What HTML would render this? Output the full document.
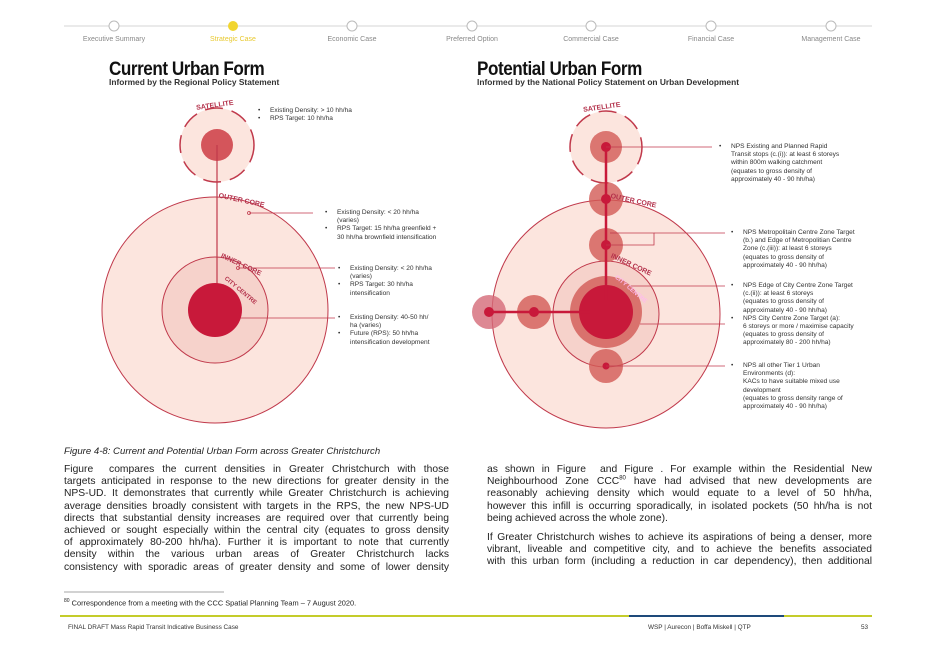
<!DOCTYPE html>
<html><head><meta charset="utf-8"><style>
*{margin:0;padding:0;box-sizing:border-box}
body{width:934px;height:661px;background:#fff;position:relative;overflow:hidden;font-family:"Liberation Sans",sans-serif;color:#222}
.a{position:absolute}
.nav{font-size:7px;color:#888;top:36px;width:110px;text-align:center}
.p{font-size:10.3px;line-height:12.2px;color:#222;width:385px}
.p div{text-align:justify;text-align-last:justify;white-space:nowrap}
.p div.l{text-align-last:left}
.lab{font-size:6.6px;line-height:8.2px;color:#333}
.lab li{list-style:none;position:relative}
.lab li:before{content:"•";position:absolute;left:-12px}
.t{font-size:19px;font-weight:bold;letter-spacing:-0.5px;color:#111;transform:scaleX(0.9);transform-origin:left}
</style></head><body>
<svg class="a" style="left:0;top:0" width="934" height="661">
<line x1="64" y1="26" x2="872" y2="26" stroke="#ddd" stroke-width="1.2"/>
<g fill="#fff" stroke="#bbb" stroke-width="1">
<circle cx="114" cy="26" r="5"/><circle cx="352" cy="26" r="5"/><circle cx="472" cy="26" r="5"/><circle cx="591" cy="26" r="5"/><circle cx="711" cy="26" r="5"/><circle cx="831" cy="26" r="5"/></g>
<circle cx="233" cy="26" r="5" fill="#f1d530"/>
<circle cx="215" cy="310" r="113" fill="#fce5de" stroke="#c0394b" stroke-width="1"/>
<circle cx="215" cy="310" r="53" fill="#f6d2cb" stroke="#c0394b" stroke-width="1"/>
<circle cx="217" cy="145" r="37" fill="#fce5de" stroke="#c0394b" stroke-width="1.5" stroke-dasharray="18 9"/>
<circle cx="217" cy="145" r="16" fill="#d4555b"/>
<line x1="217" y1="145" x2="217" y2="300" stroke="#c0394b" stroke-width="1.2"/>
<circle cx="215" cy="310" r="27" fill="#c8193a"/>
<g stroke="#c0394b" stroke-width="0.8" fill="none"><line x1="249" y1="213" x2="313" y2="213"/><circle cx="249" cy="213" r="1.5"/>
<line x1="238" y1="268" x2="335" y2="268"/><circle cx="238" cy="268" r="1.5"/><line x1="240" y1="318" x2="335" y2="318"/></g>
<g font-size="7" font-weight="bold" fill="#b3304a" font-family="Liberation Sans"><text x="196" y="108" transform="rotate(-8 210 105)">SATELLITE</text><text x="218" y="200" transform="rotate(12 230 200)">OUTER CORE</text><text x="218" y="262" transform="rotate(25 230 265)">INNER CORE</text><text x="218" y="284" font-size="6" transform="rotate(40 228 290)">CITY CENTRE</text></g>
<circle cx="606" cy="314" r="114" fill="#fce5de" stroke="#c0394b" stroke-width="1"/>
<circle cx="606" cy="314" r="53" fill="#f6d2cb" stroke="#c0394b" stroke-width="1"/>
<circle cx="606" cy="147" r="36" fill="#fce5de" stroke="#c0394b" stroke-width="1.5" stroke-dasharray="18 9"/>
<g fill="#d25a55" fill-opacity="0.8"><circle cx="606" cy="147" r="16"/><circle cx="606" cy="199" r="17"/><circle cx="606" cy="245" r="17"/><circle cx="606" cy="366" r="17"/><circle cx="534" cy="312" r="17"/><circle cx="489" cy="312" r="17" fill="#d46a78"/><circle cx="606" cy="312" r="36"/></g>
<circle cx="606" cy="312" r="27" fill="#c8193a"/>
<g stroke="#c8193a" stroke-width="2.5"><line x1="606" y1="147" x2="606" y2="300"/><line x1="489" y1="312" x2="590" y2="312"/></g>
<g fill="#c8193a"><circle cx="606" cy="147" r="5"/><circle cx="606" cy="199" r="5"/><circle cx="606" cy="245" r="5"/><circle cx="606" cy="366" r="3.5"/><circle cx="534" cy="312" r="5"/><circle cx="489" cy="312" r="5"/></g>
<g stroke="#c0394b" stroke-width="0.8" fill="none"><line x1="606" y1="147" x2="712" y2="147"/><polyline points="610,233 654,233 654,245 606,245"/><line x1="654" y1="233" x2="725" y2="233"/><line x1="630" y1="286" x2="725" y2="286"/><line x1="640" y1="324" x2="725" y2="324"/><line x1="606" y1="366" x2="725" y2="366"/></g>
<g font-size="7" font-weight="bold" fill="#b3304a" font-family="Liberation Sans"><text x="583" y="110" transform="rotate(-8 597 107)">SATELLITE</text><text x="610" y="200" transform="rotate(12 620 200)">OUTER CORE</text><text x="608" y="262" transform="rotate(25 620 265)">INNER CORE</text><text x="608" y="284" font-size="6" fill="#fbe" transform="rotate(40 620 290)">CITY CENTRE</text></g>
<line x1="64" y1="592" x2="224" y2="592" stroke="#888" stroke-width="0.8"/>
<line x1="60" y1="616" x2="872" y2="616" stroke="#c4cc2a" stroke-width="2"/>
<line x1="629" y1="616" x2="784" y2="616" stroke="#1e4a7a" stroke-width="2"/>
</svg>
<div class="a nav" style="left:59px">Executive Summary</div>
<div class="a nav" style="left:178px;color:#e8c930">Strategic Case</div>
<div class="a nav" style="left:297px">Economic Case</div>
<div class="a nav" style="left:417px">Preferred Option</div>
<div class="a nav" style="left:536px">Commercial Case</div>
<div class="a nav" style="left:656px">Financial Case</div>
<div class="a nav" style="left:776px">Management Case</div>
<div class="a t" style="left:109px;top:59px">Current Urban Form</div>
<div class="a" style="left:109px;top:77px;font-size:8.4px;font-weight:bold;color:#333">Informed by the Regional Policy Statement</div>
<div class="a t" style="left:477px;top:59px">Potential Urban Form</div>
<div class="a" style="left:477px;top:77px;font-size:8.4px;font-weight:bold;color:#333">Informed by the National Policy Statement on Urban Development</div>
<ul class="a lab" style="left:270px;top:107px"><li>Existing Density: &gt; 10 hh/ha</li><li>RPS Target: 10 hh/ha</li></ul>
<ul class="a lab" style="left:337px;top:209px;width:110px"><li>Existing Density: &lt; 20 hh/ha<br>(varies)</li><li>RPS Target: 15 hh/ha greenfield +<br>30 hh/ha brownfield intensification</li></ul>
<ul class="a lab" style="left:350px;top:265px"><li>Existing Density: &lt; 20 hh/ha<br>(varies)</li><li>RPS Target: 30 hh/ha<br>intensification</li></ul>
<ul class="a lab" style="left:350px;top:314px"><li>Existing Density: 40-50 hh/<br>ha (varies)</li><li>Future (RPS): 50 hh/ha<br>intensification development</li></ul>
<ul class="a lab" style="left:731px;top:143px"><li>NPS Existing and Planned Rapid<br>Transit stops (c.(i)): at least 6 storeys<br>within 800m walking catchment<br>(equates to gross density of<br>approximately 40 - 90 hh/ha)</li></ul>
<ul class="a lab" style="left:743px;top:229px"><li>NPS Metropolitain Centre Zone Target<br>(b.) and Edge of Metropolitian Centre<br>Zone (c.(iii)): at least 6 storeys<br>(equates to gross density of<br>approximately 40 - 90 hh/ha)</li></ul>
<ul class="a lab" style="left:743px;top:282px"><li>NPS Edge of City Centre Zone Target<br>(c.(ii)): at least 6 storeys<br>(equates to gross density of<br>approximately 40 - 90 hh/ha)</li><li>NPS City Centre Zone Target (a):<br>6 storeys or more / maximise capacity<br>(equates to gross density of<br>approximately 80 - 200 hh/ha)</li></ul>
<ul class="a lab" style="left:743px;top:362px"><li>NPS all other Tier 1 Urban<br>Environments (d):<br>KACs to have suitable mixed use<br>development<br>(equates to gross density range of<br>approximately 40 - 90 hh/ha)</li></ul>
<div class="a" style="left:64px;top:446px;font-size:9.6px;font-style:italic;color:#222">Figure 4-8: Current and Potential Urban Form across Greater Christchurch</div>
<div class="a p" style="left:64px;top:464px">
<div>Figure &nbsp;compares the current densities in Greater Christchurch with those</div>
<div>targets anticipated in response to the new directions for greater density in the</div>
<div>NPS-UD. It demonstrates that currently while Greater Christchurch is achieving</div>
<div>average densities broadly consistent with targets in the RPS, the new NPS-UD</div>
<div>directs that substantial density increases are required over that currently being</div>
<div>achieved or sought especially within the central city (equates to gross density</div>
<div>of approximately 80-200 hh/ha). Further it is important to note that currently</div>
<div>density within the various urban areas of Greater Christchurch lacks</div>
<div>consistency with sporadic areas of greater density and some of lower density</div>
</div>
<div class="a p" style="left:487px;top:464px">
<div>as shown in Figure &nbsp;and Figure . For example within the Residential New</div>
<div>Neighbourhood Zone CCC<sup style="font-size:6px;line-height:0">80</sup> have had advised that new developments are</div>
<div>reasonably achieving density which would equate to a level of 50 hh/ha,</div>
<div>however this infill is occurring sporadically, in isolated pockets (50 hh/ha is not</div>
<div class="l">being achieved across the whole zone).</div>
</div>
<div class="a p" style="left:487px;top:532px">
<div>If Greater Christchurch wishes to achieve its aspirations of being a denser, more</div>
<div>vibrant, liveable and competitive city, and to achieve the benefits associated</div>
<div>with this urban form (including a reduction in car dependency), then additional</div>
</div>
<div class="a" style="left:64px;top:598px;font-size:7.4px;color:#222"><sup style="font-size:5px">80</sup> Correspondence from a meeting with the CCC Spatial Planning Team – 7 August 2020.</div>
<div class="a" style="left:68px;top:624px;font-size:6.4px;color:#333">FINAL DRAFT Mass Rapid Transit Indicative Business Case</div>
<div class="a" style="left:648px;top:624px;font-size:6.4px;color:#333">WSP | Aurecon | Boffa Miskell | QTP</div>
<div class="a" style="left:861px;top:624px;font-size:6.4px;color:#333">53</div>
</body></html>
